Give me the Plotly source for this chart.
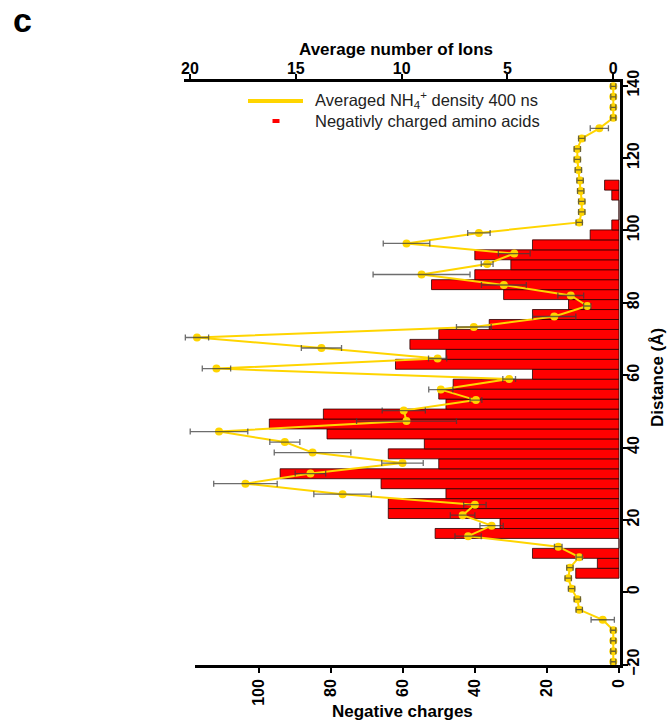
import plotly.graph_objects as go

W, H = 668, 721
FONT = "Liberation Sans, Arial, sans-serif"

# Histogram of negatively charged residues along the pore axis (bin width 2.75 Å)
bin_center = [5.25, 8.0, 10.75, 13.5, 16.25, 19.0, 21.75, 24.5, 27.25, 30.0,
              32.75, 35.5, 38.25, 41.0, 43.75, 46.5, 49.25, 52.0, 54.75, 57.5,
              60.25, 63.0, 65.75, 68.5, 71.25, 74.0, 76.75, 79.5, 82.25, 85.0,
              87.75, 90.5, 93.25, 96.0, 98.75, 101.5, 104.25, 107.0, 109.75, 112.5]
neg_charges = [12, 6, 24, 0, 51, 33, 64, 64, 48, 66,
               94, 50, 64, 54, 81, 97, 82, 48, 50, 46,
               24, 62, 48, 58, 50, 36, 24, 14, 32, 52,
               40, 30, 40, 24, 8, 2, 0, 0, 2, 4]
bin_width = 2.75

# Averaged NH4+ profile (400 ns) with its standard deviation
distance = [-19.2, -16.3, -13.4, -10.5, -7.6, -4.8, -1.9, 1.0, 3.9, 6.8,
            9.7, 12.6, 15.5, 18.4, 21.3, 24.2, 27.1, 30.0, 32.8, 35.7,
            38.6, 41.5, 44.4, 47.3, 50.2, 53.1, 56.0, 58.9, 61.8, 64.6,
            67.5, 70.4, 73.3, 76.2, 79.1, 82.0, 84.9, 87.8, 90.7, 93.6,
            96.4, 99.3, 102.2, 105.1, 108.0, 110.9, 113.8, 116.7, 119.6, 122.5,
            125.4, 128.2, 131.1, 134.0, 136.9, 139.8]
ions = [0.0, 0.0, 0.0, 0.0, 0.5, 1.61, 1.7, 1.97, 2.13, 2.05,
        1.61, 2.6, 6.86, 5.75, 7.12, 6.54, 12.79, 17.38, 14.31, 9.96,
        14.21, 15.52, 18.63, 9.77, 9.9, 6.49, 8.15, 4.92, 18.75, 8.3,
        13.79, 19.67, 6.59, 2.79, 1.23, 2.01, 5.17, 9.06, 5.96, 4.68,
        9.77, 6.35, 1.61, 1.49, 1.49, 1.54, 1.57, 1.65, 1.7, 1.7,
        1.49, 0.66, 0.0, 0.0, 0.0, 0.0]
ions_sd = [0.12, 0.12, 0.12, 0.12, 0.55, 0.15, 0.15, 0.15, 0.15, 0.15,
           0.15, 0.18, 0.62, 0.55, 0.58, 0.53, 1.36, 1.5, 0.72, 0.98,
           1.81, 0.71, 1.36, 2.36, 1.02, 0.28, 0.57, 0.3, 0.67, 0.43,
           0.95, 0.55, 0.82, 1.02, 0.17, 0.61, 1.06, 2.29, 0.28, 0.75,
           1.1, 0.53, 0.15, 0.15, 0.15, 0.15, 0.15, 0.15, 0.15, 0.15,
           0.15, 0.43, 0.12, 0.12, 0.12, 0.12]

charge_ticks = [0, 20, 40, 60, 80, 100]
ion_ticks = [0, 5, 10, 15, 20]
dist_ticks = [-20, 0, 20, 40, 60, 80, 100, 120, 140]

YELLOW = "#FFD500"
RED = "#FF0000"


def px_x(p):
    return p / W


def px_y(p):
    return 1 - p / H


fig = go.Figure()

fig.add_trace(go.Bar(
    y=bin_center, x=neg_charges, orientation="h", width=bin_width,
    marker=dict(color=RED, line=dict(color="#2a0000", width=0.8)),
    xaxis="x", yaxis="y", showlegend=False, hoverinfo="skip",
))

fig.add_trace(go.Scatter(
    x=ions, y=distance, mode="lines+markers",
    line=dict(color=YELLOW, width=2),
    marker=dict(size=8, color=YELLOW),
    xaxis="x2", yaxis="y", showlegend=False,
))

# error bars drawn above the markers
fig.add_trace(go.Scatter(
    x=ions, y=distance, mode="markers",
    marker=dict(size=1, color="rgba(0,0,0,0)"),
    error_x=dict(type="data", array=ions_sd, color="rgba(60,60,60,0.75)",
                 thickness=1.3, width=3),
    xaxis="x2", yaxis="y", showlegend=False, hoverinfo="skip",
))

axis_common = dict(
    showline=True, linecolor="black", linewidth=2.5,
    ticks="outside", ticklen=5, tickwidth=2, tickcolor="black",
    showgrid=False, zeroline=False, automargin=False,
    tickfont=dict(family=FONT, size=16, color="black", weight="bold"),
)

x0_bar, x0_line, x1 = 195, 184, 620
y_top, y_bot = 82, 665

fig.update_layout(
    template="none",
    width=W, height=H,
    margin=dict(l=0, r=0, t=0, b=0, pad=0),
    paper_bgcolor="white", plot_bgcolor="rgba(0,0,0,0)",
    xaxis=dict(
        domain=[px_x(x0_bar), px_x(x1)],
        range=[(619 - x0_bar) / 3.605, (619 - x1) / 3.605],
        anchor="y", side="bottom",
        tickvals=charge_ticks, tickangle=-90,
        **axis_common,
    ),
    xaxis2=dict(
        domain=[px_x(x0_line), px_x(x1)],
        range=[(613.3 - x0_line) / 21.165, (613.3 - x1) / 21.165],
        anchor="y", side="top",
        tickvals=ion_ticks, tickangle=0, ticklabelstandoff=-6,
        **axis_common,
    ),
    yaxis=dict(
        domain=[px_y(y_bot), px_y(y_top)],
        range=[-20.1, 141.0],
        anchor="x", side="right",
        tickvals=dist_ticks, tickangle=-90, ticklabelstandoff=-8,
        **axis_common,
    ),
)

bold = dict(family=FONT, size=17, color="black", weight="bold")
annotations = [
    dict(text="Average number of Ions", x=px_x(396), y=px_y(50), font=bold),
    dict(text="Negative charges", x=px_x(402.5), y=px_y(711), font=bold),
    dict(text="Distance (Å)", x=px_x(657), y=px_y(378), font=bold, textangle=-90),
    dict(text="c", x=px_x(22), y=px_y(20),
         font=dict(family=FONT, size=34, color="black", weight="bold")),
    dict(text="Averaged NH<sub>4</sub><sup>+</sup> density 400 ns",
         x=px_x(313), y=px_y(100.5), xanchor="left",
         font=dict(family=FONT, size=16.5, color="#222222")),
    dict(text="Negativly charged amino acids",
         x=px_x(313), y=px_y(121), xanchor="left",
         font=dict(family=FONT, size=16.5, color="#222222")),
]
for a in annotations:
    a.setdefault("xanchor", "center")
    a.update(xref="paper", yref="paper", yanchor="middle", showarrow=False)
fig.update_layout(annotations=annotations)

fig.add_shape(type="line", xref="paper", yref="paper",
              x0=px_x(248), x1=px_x(303), y0=px_y(101), y1=px_y(101),
              line=dict(color=YELLOW, width=4))
fig.add_shape(type="rect", xref="paper", yref="paper",
              x0=px_x(272.5), x1=px_x(279.5), y0=px_y(119), y1=px_y(123),
              fillcolor=RED, line=dict(width=0))

fig.write_html("out.html")
